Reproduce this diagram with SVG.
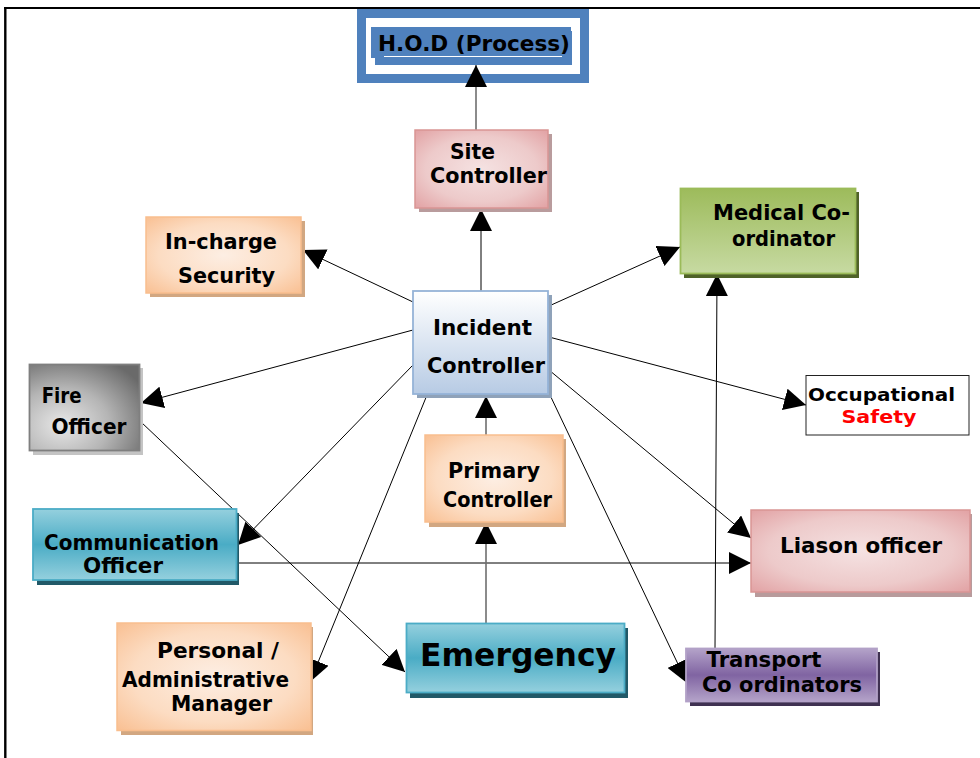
<svg xmlns="http://www.w3.org/2000/svg" width="980" height="758" viewBox="0 0 980 758">
<defs>
<style>
.t{font-family:"DejaVu Sans",Verdana,"Liberation Sans",sans-serif;font-weight:bold;font-size:20.5px;fill:#000;text-anchor:middle}
.c{stroke:#000;stroke-width:1;fill:none;marker-end:url(#ah)}
.cg{stroke:#6e6e6e;stroke-width:1.6;fill:none;marker-end:url(#ah)}
</style>
<marker id="ah" markerUnits="userSpaceOnUse" markerWidth="22" markerHeight="22" refX="20" refY="10" orient="auto" viewBox="0 0 20 20">
<path d="M0,0 L20,10 L0,20 Z" fill="#000"/>
</marker>
<radialGradient id="gPink" cx="50%" cy="50%" r="70%"><stop offset="0" stop-color="#f5e2e2"/><stop offset="0.6" stop-color="#edcaca"/><stop offset="1" stop-color="#e2a2a4"/></radialGradient>
<radialGradient id="gOrange" cx="50%" cy="50%" r="70%"><stop offset="0" stop-color="#fdeee3"/><stop offset="0.6" stop-color="#fcdcc2"/><stop offset="1" stop-color="#f9c093"/></radialGradient>
<linearGradient id="gBlue" x1="0" y1="0" x2="0" y2="1"><stop offset="0" stop-color="#ffffff"/><stop offset="1" stop-color="#b7cbe4"/></linearGradient>
<linearGradient id="gGreen" x1="0" y1="0" x2="0" y2="1"><stop offset="0" stop-color="#9dbb5b"/><stop offset="1" stop-color="#c7daa2"/></linearGradient>
<radialGradient id="gGray" cx="30%" cy="70%" r="85%"><stop offset="0" stop-color="#e8e8e8"/><stop offset="0.5" stop-color="#b5b5b5"/><stop offset="1" stop-color="#6a6a6a"/></radialGradient>
<linearGradient id="gTeal" x1="0" y1="0" x2="0" y2="1"><stop offset="0" stop-color="#95d0de"/><stop offset="0.5" stop-color="#4aacc5"/><stop offset="1" stop-color="#95d0de"/></linearGradient>
<linearGradient id="gPurple" x1="0" y1="0" x2="0" y2="1"><stop offset="0" stop-color="#b4a3c9"/><stop offset="0.5" stop-color="#8064a2"/><stop offset="1" stop-color="#b4a3c9"/></linearGradient>
</defs>
<rect width="980" height="758" fill="#fff"/>
<g id="frame" stroke="#000" fill="none">
<line x1="4" y1="8" x2="980" y2="8" stroke-width="2.2"/>
<line x1="5.3" y1="7" x2="5.3" y2="758" stroke-width="2.4"/>
</g>
<g id="hod">
<rect x="361.5" y="13.5" width="223" height="65" fill="#fff" stroke="#4f81bd" stroke-width="9"/>
<rect x="371" y="27" width="200" height="31" fill="#4f81bd"/>
<rect x="375" y="31" width="197" height="34" fill="#4f81bd"/>
<line x1="384" y1="56.5" x2="562" y2="56.5" stroke="#fff" stroke-width="1"/>
<text class="t" x="474" y="51" style="font-size:22px" textLength="192" lengthAdjust="spacingAndGlyphs">H.O.D (Process)</text>
</g>
<g id="connectors">
<line class="cg" x1="476" y1="130" x2="476" y2="65"/>
<line class="c" x1="481" y1="291" x2="481" y2="209"/>
<line class="c" x1="413" y1="302" x2="303" y2="250"/>
<line class="c" x1="549" y1="306" x2="680" y2="247"/>
<line class="c" x1="715" y1="648" x2="717" y2="274"/>
<line class="c" x1="549" y1="337" x2="806" y2="405"/>
<line class="c" x1="413" y1="330" x2="141" y2="403"/>
<line class="c" x1="141" y1="422" x2="405" y2="672"/>
<line class="c" x1="413" y1="365" x2="238" y2="545"/>
<line class="c" x1="237" y1="563" x2="751" y2="563"/>
<line class="c" x1="549" y1="370" x2="751" y2="538"/>
<line class="c" x1="549" y1="393" x2="687" y2="683"/>
<line class="c" x1="427" y1="395" x2="310" y2="682"/>
<line class="cg" x1="486" y1="623" x2="486" y2="522"/>
<line class="cg" x1="486" y1="435" x2="486" y2="396"/>
</g>
<g id="site-controller">
<rect x="419" y="134" width="133" height="78" fill="#b99c9d"/>
<rect x="415" y="130" width="133" height="78" fill="url(#gPink)" stroke="#d99594" stroke-width="1.5"/>
<text class="t" x="472.5" y="159" textLength="45" lengthAdjust="spacingAndGlyphs">Site</text>
<text class="t" x="488.5" y="183" textLength="117" lengthAdjust="spacingAndGlyphs">Controller</text>
</g>
<g id="in-charge-security">
<rect x="150" y="221" width="155" height="76" fill="#d2a781"/>
<rect x="146" y="217" width="155" height="76" fill="url(#gOrange)" stroke="#f9be8e" stroke-width="1.5"/>
<text class="t" x="221" y="249" textLength="112" lengthAdjust="spacingAndGlyphs">In-charge</text>
<text class="t" x="226.5" y="283" textLength="97" lengthAdjust="spacingAndGlyphs">Security</text>
</g>
<g id="incident-controller">
<rect x="417" y="295" width="135" height="103" fill="#8fa2b9"/>
<rect x="413" y="291" width="135" height="103" fill="url(#gBlue)" stroke="#95b3d7" stroke-width="1.8"/>
<text class="t" x="482.5" y="335" textLength="99" lengthAdjust="spacingAndGlyphs">Incident</text>
<text class="t" x="486" y="373" textLength="118" lengthAdjust="spacingAndGlyphs">Controller</text>
</g>
<g id="medical-coordinator">
<rect x="684" y="192" width="175" height="86" fill="#4f6228"/>
<rect x="680.5" y="188.5" width="175" height="85" fill="url(#gGreen)" stroke="#9bbb59" stroke-width="1.8"/>
<text class="t" x="781.5" y="220" textLength="137" lengthAdjust="spacingAndGlyphs">Medical Co-</text>
<text class="t" x="783.5" y="246" textLength="103" lengthAdjust="spacingAndGlyphs">ordinator</text>
</g>
<g id="fire-officer">
<rect x="33" y="368" width="110" height="87" fill="#c4c4c4"/>
<rect x="29.5" y="364.5" width="110" height="86" fill="url(#gGray)" stroke="#7f7f7f" stroke-width="1.8"/>
<text class="t" x="61.7" y="403" textLength="40" lengthAdjust="spacingAndGlyphs">Fire</text>
<text class="t" x="89" y="434" textLength="75" lengthAdjust="spacingAndGlyphs">Officer</text>
</g>
<g id="occupational-safety">
<rect x="806" y="375.5" width="163" height="59.5" fill="#fff" stroke="#222" stroke-width="1"/>
<text class="t" x="881.5" y="401" style="font-size:18.5px" textLength="147" lengthAdjust="spacingAndGlyphs">Occupational</text>
<text class="t" x="879" y="423" style="font-size:18.5px;fill:#ff0000" textLength="75" lengthAdjust="spacingAndGlyphs">Safety</text>
</g>
<g id="primary-controller">
<rect x="429" y="439" width="137" height="88" fill="#d2a781"/>
<rect x="425" y="435" width="138" height="87" fill="url(#gOrange)" stroke="#f9be8e" stroke-width="1.5"/>
<text class="t" x="494" y="478" textLength="92" lengthAdjust="spacingAndGlyphs">Primary</text>
<text class="t" x="497.5" y="507" textLength="109" lengthAdjust="spacingAndGlyphs">Controller</text>
</g>
<g id="communication-officer">
<rect x="37" y="513" width="202" height="72" fill="#215968"/>
<rect x="33" y="509" width="203.5" height="71" fill="url(#gTeal)" stroke="#4bacc6" stroke-width="1.8"/>
<text class="t" x="131.5" y="550" textLength="175" lengthAdjust="spacingAndGlyphs">Communication</text>
<text class="t" x="123" y="573" textLength="80" lengthAdjust="spacingAndGlyphs">Officer</text>
</g>
<g id="liason-officer">
<rect x="755" y="514" width="217" height="83" fill="#b89b9c"/>
<rect x="751" y="510" width="219" height="82" fill="url(#gPink)" stroke="#d99594" stroke-width="1.5"/>
<text class="t" x="861" y="553" style="font-size:21px" textLength="162" lengthAdjust="spacingAndGlyphs">Liason officer</text>
</g>
<g id="personal-administrative-manager">
<rect x="121" y="627" width="192" height="108" fill="#d2a781"/>
<rect x="117" y="623" width="194" height="107.5" fill="url(#gOrange)" stroke="#f9be8e" stroke-width="1.5"/>
<text class="t" x="218" y="658" textLength="122" lengthAdjust="spacingAndGlyphs">Personal /</text>
<text class="t" x="205.5" y="687" textLength="167" lengthAdjust="spacingAndGlyphs">Administrative</text>
<text class="t" x="221.5" y="711" textLength="101" lengthAdjust="spacingAndGlyphs">Manager</text>
</g>
<g id="emergency">
<rect x="410" y="628" width="218" height="70" fill="#215968"/>
<rect x="406.5" y="623.5" width="218" height="69" fill="url(#gTeal)" stroke="#4bacc6" stroke-width="1.8"/>
<text class="t" x="518" y="666" style="font-size:32px" textLength="196" lengthAdjust="spacingAndGlyphs">Emergency</text>
</g>
<g id="transport-coordinators">
<rect x="690" y="652" width="190" height="54" fill="#3f3151"/>
<rect x="686" y="648.5" width="191" height="53" fill="url(#gPurple)" stroke="#b2a1c7" stroke-width="1.8"/>
<text class="t" x="764" y="667" textLength="115" lengthAdjust="spacingAndGlyphs">Transport</text>
<text class="t" x="782" y="692" textLength="160" lengthAdjust="spacingAndGlyphs">Co ordinators</text>
</g>
</svg>
